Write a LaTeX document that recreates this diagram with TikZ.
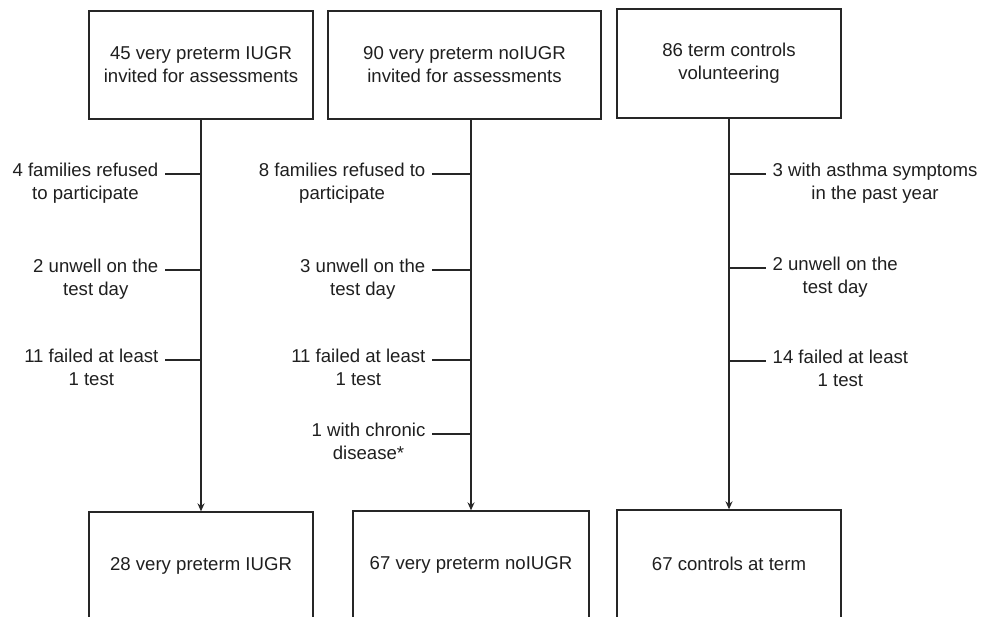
\documentclass[tikz,border=0pt]{standalone}
\usepackage{fontspec}
\setmainfont{Liberation Sans}
\usetikzlibrary{arrows.meta}

\begin{document}
\begin{tikzpicture}[x=1pt, y=-1pt, >={Stealth[length=8pt,width=7pt]},
    line width=1.3pt, draw=black!85,
    every node/.style={font=\fontsize{18.6}{23}\selectfont, text=black!88},
    box/.style={draw=black!85, minimum height=108pt, align=center},
    lbl/.style={align=center, inner xsep=6pt, inner ysep=2pt}]
    % Bildrahmen
    \useasboundingbox (0,0) rectangle (981,617);
    \clip (0,0) rectangle (981,617);

    % obere Kaesten
    \node[box, minimum width=224pt] (iugr) at (201,65)
         {45 very preterm IUGR\\invited for assessments};
    \node[box, minimum width=273pt] (noiugr) at (464.5,65)
         {90 very preterm noIUGR\\invited for assessments};
    \node[box, minimum width=224pt, minimum height=109pt] (ctrl) at (729,63.5)
         {86 term controls\\volunteering};

    % untere Kaesten
    \node[box, minimum width=224pt] (iugrF) at (201,566) {28 very preterm IUGR};
    \node[box, minimum width=236pt] (noiugrF) at (471,565) {67 very preterm noIUGR};
    \node[box, minimum width=224pt] (ctrlF) at (729,564) {67 controls at term};

    % Hauptpfeile
    \draw[->] (iugr.south) -- (iugrF.north);
    \draw[->] (noiugr.south -| noiugrF.north) -- (noiugrF.north);
    \draw[->] (ctrl.south) -- (ctrlF.north);

    % Abzweige links (Linie auf Hoehe der ersten Zeile)
    \coordinate (ia) at (201,174);
    \coordinate (ib) at (201,270);
    \coordinate (ic) at (201,360);
    \node[lbl, anchor=mid east] (ila) at (165,197) {4 families refused\\to participate};
    \node[lbl, anchor=mid east] (ilb) at (165,293) {2 unwell on the\\test day};
    \node[lbl, anchor=mid east] (ilc) at (165,383) {11 failed at least\\1 test};
    \draw ([yshift=23pt]ila.mid east) -- (ia);
    \draw ([yshift=23pt]ilb.mid east) -- (ib);
    \draw ([yshift=23pt]ilc.mid east) -- (ic);

    % Abzweige Mitte
    \coordinate (na) at (472,174);
    \coordinate (nb) at (472,270);
    \coordinate (nc) at (472,360);
    \coordinate (nd) at (472,434);
    \node[lbl, anchor=mid east] (nla) at (432,197) {8 families refused to\\participate};
    \node[lbl, anchor=mid east] (nlb) at (432,293) {3 unwell on the\\test day};
    \node[lbl, anchor=mid east] (nlc) at (432,383) {11 failed at least\\1 test};
    \node[lbl, anchor=mid east] (nld) at (432,457) {1 with chronic\\disease*};
    \draw ([yshift=23pt]nla.mid east) -- (na);
    \draw ([yshift=23pt]nlb.mid east) -- (nb);
    \draw ([yshift=23pt]nlc.mid east) -- (nc);
    \draw ([yshift=23pt]nld.mid east) -- (nd);

    % Abzweige rechts
    \coordinate (ca) at (729,174);
    \coordinate (cb) at (729,268);
    \coordinate (cc) at (729,361);
    \node[lbl, anchor=mid west] (cla) at (766,197) {3 with asthma symptoms\\in the past year};
    \node[lbl, anchor=mid west] (clb) at (766,291) {2 unwell on the\\test day};
    \node[lbl, anchor=mid west] (clc) at (766,384) {14 failed at least\\1 test};
    \draw (ca) -- ([yshift=23pt]cla.mid west);
    \draw (cb) -- ([yshift=23pt]clb.mid west);
    \draw (cc) -- ([yshift=23pt]clc.mid west);
\end{tikzpicture}
\end{document}
